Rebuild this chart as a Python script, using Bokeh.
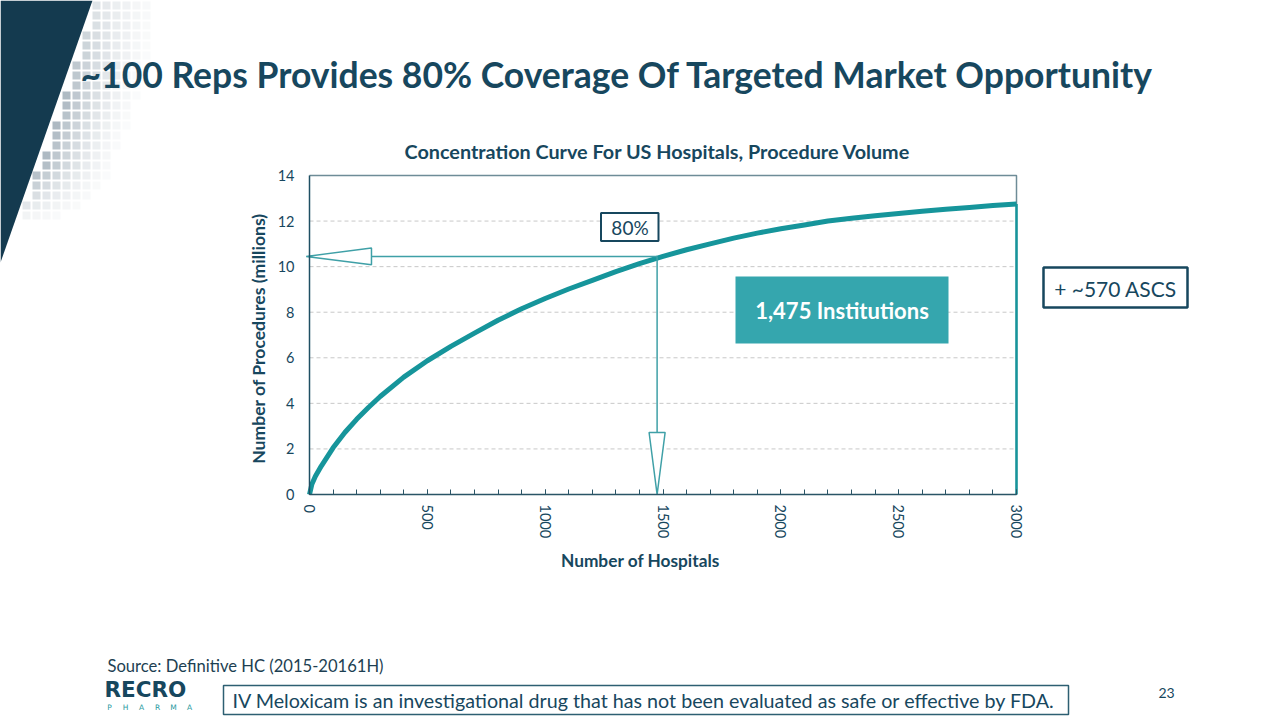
import math
from bokeh.plotting import figure
from bokeh.models import (Range1d, FixedTicker, Label, LinearAxis)
from bokeh.embed import file_html
from bokeh.resources import INLINE

# ---------------- data ----------------
hospitals = [0, 10, 25, 50, 100, 150, 200, 250, 300, 400, 500, 600, 700, 800, 900, 1000,
             1100, 1200, 1300, 1400, 1500, 1600, 1700, 1800, 1900, 2000,
             2100, 2200, 2300, 2400, 2500, 2600, 2700, 2800, 2900, 3000]
procedures = [0.0, 0.45, 0.8, 1.25, 2.05, 2.72, 3.3, 3.82, 4.3, 5.15, 5.87, 6.5, 7.08, 7.65, 8.15, 8.6,
              9.02, 9.4, 9.78, 10.13, 10.45, 10.74, 11.0, 11.25, 11.47, 11.66,
              11.83, 12.0, 12.12, 12.23, 12.33, 12.43, 12.52, 12.6, 12.68, 12.75]
coverage_hospitals = 1475
coverage_value = 10.45
x_ticks = [0, 500, 1000, 1500, 2000, 2500, 3000]
x_minor_ticks = list(range(0, 3001, 100))
y_ticks = [0, 2, 4, 6, 8, 10, 12, 14]
x_max, y_max = 3000, 14

# ---------------- layout (page pixels) ----------------
W, H = 1280, 720
FL, FR, FT, FB = 309, 1016, 175, 494      # chart plot-area edges
DARK = "#17475E"
TEAL = "#16959b"
ARROW = "#3fa0a7"
FONT = "Lato"

# the whole slide is one frame in page-pixel coordinates; the chart uses
# extra ranges whose spans put 0..x_max / 0..y_max on the plot-area edges
kx = x_max / (FR - FL)
ky = y_max / (FB - FT)
p = figure(width=W, height=H, output_backend="svg", toolbar_location=None,
           x_range=Range1d(0, W), y_range=Range1d(H, 0),
           x_axis_type=None, y_axis_type=None, min_border=0,
           title_location=None)
p.extra_x_ranges = {"hx": Range1d(-FL * kx, x_max + (W - FR) * kx)}
p.extra_y_ranges = {"py": Range1d(-(H - FB) * ky, y_max + FT * ky)}
p.background_fill_color = "white"
p.border_fill_color = "white"
p.outline_line_color = None
p.xgrid.visible = False
p.ygrid.visible = False
C = dict(x_range_name="hx", y_range_name="py")

# ---------------- decorations: wedge + tiles ----------------
tl, tr, tt, tb, ta = [], [], [], [], []
for r in range(22):
    y0 = 1 + r * 10
    yc = y0 + 4
    edge = 92 * (1 - yc / 262)
    for c in range(26):
        x0 = 2 + c * 10
        d = x0 - edge
        if d < 1 or d > 95:
            continue
        a = 0.62 * (1 - d / 95) ** 2.0 * min(1.0, (yc + 50) / 150) * max(0.0, min(1.0, (225 - yc) / 60))
        if a < 0.03:
            continue
        tl.append(x0); tr.append(x0 + 8); tt.append(y0); tb.append(y0 + 8); ta.append(a)
p.quad(left=tl, right=tr, top=tt, bottom=tb, fill_color="#6f8494", fill_alpha=ta, line_color=None)
p.patch([0, 92, 0], [0, 0, 262], fill_color="#143a4f", line_color=None)

# ---------------- chart grid / border ----------------
inner = y_ticks[1:-1]
p.segment(x0=[0] * len(inner), x1=[x_max] * len(inner), y0=inner, y1=inner,
          line_color="#c8c8c8", line_dash="4 3", line_width=1, **C)
p.line([0, x_max, x_max], [y_max, y_max, 0], line_color="#6e8c97", line_width=1.5, **C)

# axes
xa = LinearAxis(fixed_location=0, bounds=(0, x_max),
                ticker=FixedTicker(ticks=x_ticks, minor_ticks=x_minor_ticks), **C)
xa.major_label_orientation = "vertical"
xa.major_label_standoff = 10
xa.major_tick_in = 5
xa.major_tick_out = 0
xa.minor_tick_in = 5
xa.minor_tick_out = 0
xa.major_tick_line_color = "#2a5566"
xa.minor_tick_line_color = "#2a5566"
xa.axis_line_color = "#2a5566"
xa.axis_line_width = 1.5
xa.major_label_text_font = FONT
xa.major_label_text_font_size = "14.5px"
xa.major_label_text_color = DARK
p.add_layout(xa, "below")

ya = LinearAxis(fixed_location=0, bounds=(0, y_max), ticker=FixedTicker(ticks=y_ticks), **C)
ya.major_tick_in = 0
ya.major_tick_out = 0
ya.minor_tick_in = 0
ya.minor_tick_out = 0
ya.major_label_standoff = 15
ya.axis_line_color = "#1f4f63"
ya.axis_line_width = 1.5
ya.major_label_text_font = FONT
ya.major_label_text_font_size = "14.5px"
ya.major_label_text_color = DARK
p.add_layout(ya, "left")

# ---------------- curve ----------------
p.line(hospitals, procedures, line_color=TEAL, line_width=5, line_join="round", **C)
p.segment(x0=[hospitals[-1]], y0=[procedures[-1]], x1=[hospitals[-1]], y1=[0],
          line_color=TEAL, line_width=2.5, **C)

# ---------------- 80% arrows ----------------
tip_x = -14          # arrow tip just left of the y axis (hospitals)
head_len_x = 263     # ~62 px
head_half_y = 0.37   # ~8 px
head_len_y = 2.72    # ~62 px
head_half_x = 34     # ~8 px
p.line([coverage_hospitals, head_len_x], [coverage_value, coverage_value],
       line_color=ARROW, line_width=1.5, **C)
p.patch([tip_x, head_len_x, head_len_x],
        [coverage_value, coverage_value + head_half_y, coverage_value - head_half_y],
        fill_color="white", line_color=ARROW, line_width=1.5, **C)
p.line([coverage_hospitals, coverage_hospitals], [coverage_value, head_len_y],
       line_color=ARROW, line_width=1.5, **C)
p.patch([coverage_hospitals, coverage_hospitals - head_half_x, coverage_hospitals + head_half_x],
        [0, head_len_y, head_len_y],
        fill_color="white", line_color=ARROW, line_width=1.5, **C)


# ---------------- boxes and texts (page pixels) ----------------
def box(l, t, r, b, **kw):
    p.quad(left=[l], right=[r], top=[t], bottom=[b], **kw)


def label(X, Y, text, size, color=DARK, bold=False, align="center",
          baseline="middle", angle=0.0, font=FONT):
    p.add_layout(Label(x=X, y=Y, text=text, text_font=font, text_font_size=size,
                       text_color=color, text_font_style="bold" if bold else "normal",
                       text_align=align, text_baseline=baseline, angle=angle))


label(80, 74, "~100 Reps Provides 80% Coverage Of Targeted Market Opportunity", "35.5px",
      bold=True, align="left", baseline="alphabetic")
label(657, 150, "Concentration Curve For US Hospitals, Procedure Volume", "19.8px", bold=True)
label(258, 338, "Number of Procedures (millions)", "17.6px", bold=True, angle=math.pi / 2)
label(640, 560, "Number of Hospitals", "17.3px", bold=True)

box(600.5, 212.5, 658, 240.5, fill_color="white", line_color=DARK, line_width=2)
label(629.5, 227, "80%", "19px")

box(735, 276, 948, 343, fill_color="#35a6ae", line_color=None)
label(841.5, 310, "1,475 Institutions", "22px", color="white", bold=True)

box(1043, 267, 1187, 307, fill_color="white", line_color=DARK, line_width=2.5)
label(1115, 288, "+ ~570 ASCS", "21px")

label(107, 665, "Source: Definitive HC (2015-20161H)", "16.6px", color="#1d3f52", align="left")

# logo
label(104, 689, "RECRO", "21.5px", color=DARK, bold=True, align="left", baseline="middle",
      font="DejaVu Sans")
for i, ch in enumerate("PHARMA"):
    label(109 + i * 16, 707, ch, "7.5px", color="#2a9aa0", font="DejaVu Sans")

box(223, 685, 1068, 714, fill_color="white", line_color="#2d5f72", line_width=1.5)
label(232, 700, "IV Meloxicam is an investigational drug that has not been evaluated as safe or effective by FDA.",
      "19.7px", align="left")

label(1166, 692, "23", "14px")

open("out.html", "w").write(file_html(p, INLINE))
